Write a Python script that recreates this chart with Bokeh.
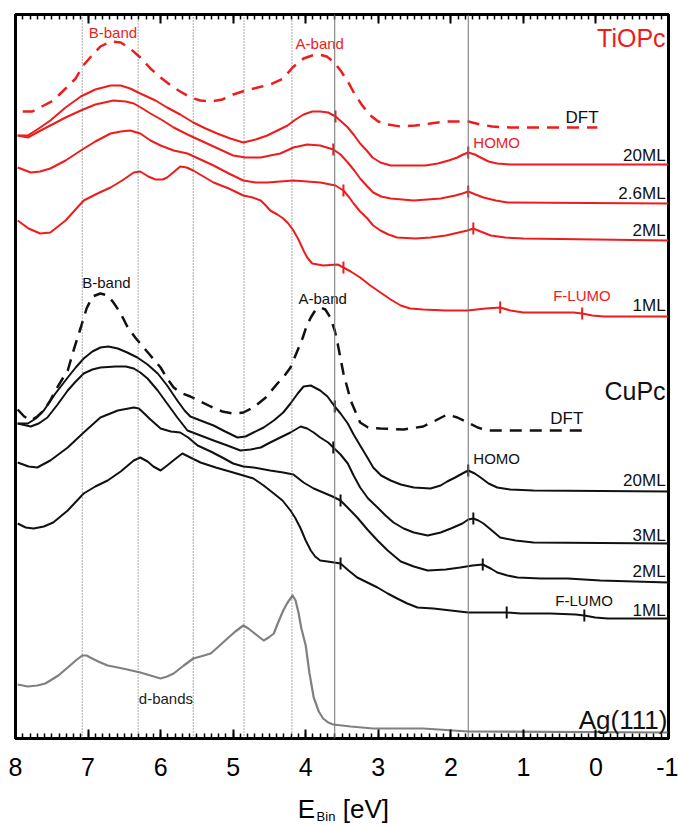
import numpy as np
from bokeh.plotting import figure
from bokeh.models import Range1d, LinearAxis, Span, SingleIntervalTicker, CustomJSTickFormatter
from bokeh.core.properties import value
from bokeh.layouts import column
from bokeh.embed import file_html
from bokeh.resources import INLINE

# ---------------- data: binding energy (eV) and offset intensity (arb. units) ----
ti_dft_e = [7.90, 7.77, 7.61, 7.48, 7.31, 7.17, 7.08, 6.97, 6.83, 6.69, 6.55, 6.42, 6.28, 6.14, 6.00, 5.86, 5.73, 5.59, 5.45, 5.31, 5.15, 5.00, 4.83, 4.66, 4.49, 4.31, 4.18, 4.03, 3.91, 3.82, 3.71, 3.62, 3.52, 3.42, 3.33, 3.22, 3.11, 3.00, 2.87, 2.69, 2.49, 2.28, 2.07, 1.76, 1.59, 1.43, 1.18, -0.02]
ti_dft_i = [627, 627, 633, 638, 650, 660, 672, 681, 692, 697, 696, 690, 681, 670, 661, 653, 647, 641, 638, 637, 639, 644, 648, 651, 654, 660, 671, 680, 683, 684, 682, 677, 668, 657, 645, 633, 623, 617, 614, 612, 613, 615, 617, 617, 614, 612, 611, 611]

ti_20_e = [7.97, 7.83, 7.68, 7.52, 7.31, 7.10, 6.90, 6.69, 6.55, 6.42, 6.28, 6.07, 5.91, 5.73, 5.55, 5.38, 5.22, 5.04, 4.86, 4.69, 4.53, 4.39, 4.25, 4.14, 4.03, 3.91, 3.80, 3.69, 3.59, 3.51, 3.42, 3.33, 3.25, 3.16, 3.08, 2.97, 2.83, 2.60, 2.35, 2.18, 2.03, 1.91, 1.83, 1.76, 1.67, 1.59, 1.48, 1.36, 1.18, -1.00]
ti_20_i = [603, 603, 610, 618, 631, 642, 649, 653, 653, 650, 645, 638, 631, 624, 616, 610, 605, 600, 596, 599, 603, 608, 613, 619, 624, 627, 627, 626, 622, 617, 611, 603, 595, 588, 581, 576, 573, 573, 573, 575, 578, 581, 584, 586, 584, 581, 577, 575, 574, 574]

ti_26_e = [7.97, 7.83, 7.68, 7.52, 7.31, 7.10, 6.90, 6.65, 6.48, 6.37, 6.25, 6.14, 5.97, 5.82, 5.63, 5.45, 5.24, 5.00, 4.83, 4.62, 4.49, 4.35, 4.17, 3.98, 3.80, 3.62, 3.52, 3.42, 3.33, 3.25, 3.15, 3.07, 2.96, 2.83, 2.51, 2.14, 1.94, 1.84, 1.76, 1.66, 1.55, 1.38, 1.22, -1.00]
ti_26_i = [603, 601, 607, 613, 621, 628, 634, 638, 637, 635, 630, 625, 618, 611, 604, 598, 591, 583, 581, 581, 583, 585, 591, 594, 593, 589, 584, 576, 568, 560, 552, 546, 542, 540, 538, 540, 543, 545, 547, 544, 541, 538, 536, 535]

ti_2_e = [7.97, 7.79, 7.66, 7.52, 7.31, 7.10, 6.90, 6.69, 6.55, 6.42, 6.28, 6.14, 6.00, 5.82, 5.63, 5.45, 5.27, 5.06, 4.86, 4.69, 4.53, 4.35, 4.17, 3.98, 3.80, 3.59, 3.48, 3.41, 3.34, 3.25, 3.15, 3.07, 2.97, 2.86, 2.74, 2.49, 2.28, 2.07, 1.89, 1.77, 1.69, 1.59, 1.45, 1.25, 1.00, -1.00]
ti_2_i = [571, 566, 567, 570, 578, 588, 597, 605, 607, 608, 605, 598, 593, 588, 585, 579, 573, 565, 558, 556, 556, 557, 558, 557, 556, 553, 548, 542, 535, 527, 520, 513, 508, 504, 501, 500, 501, 503, 506, 508, 510, 507, 503, 501, 500, 498]

ti_1_e = [7.97, 7.82, 7.66, 7.52, 7.31, 7.06, 6.87, 6.69, 6.53, 6.37, 6.28, 6.17, 6.07, 5.97, 5.91, 5.81, 5.73, 5.64, 5.55, 5.41, 5.27, 5.06, 4.86, 4.73, 4.62, 4.55, 4.49, 4.39, 4.31, 4.24, 4.17, 4.10, 4.03, 3.98, 3.91, 3.76, 3.56, 3.48, 3.38, 3.25, 3.11, 2.97, 2.83, 2.69, 2.56, 2.38, 2.07, 1.77, 1.52, 1.32, 1.18, 1.00, 0.31, 0.19, 0.05, -0.10, -1.00]
ti_1_i = [518, 510, 505, 506, 518, 538, 545, 551, 558, 566, 567, 562, 559, 559, 561, 567, 572, 571, 568, 562, 556, 550, 543, 541, 538, 533, 528, 524, 520, 515, 508, 499, 488, 481, 475, 473, 474, 471, 467, 461, 453, 446, 439, 433, 430, 429, 428, 428, 430, 431, 428, 426, 426, 425, 423, 422, 422]

cu_dft_e = [7.97, 7.88, 7.79, 7.70, 7.61, 7.52, 7.45, 7.35, 7.28, 7.20, 7.10, 7.02, 6.94, 6.83, 6.73, 6.65, 6.55, 6.46, 6.35, 6.28, 6.14, 6.00, 5.91, 5.82, 5.73, 5.59, 5.45, 5.31, 5.15, 5.00, 4.86, 4.72, 4.55, 4.39, 4.28, 4.21, 4.13, 4.04, 3.99, 3.93, 3.87, 3.80, 3.73, 3.66, 3.60, 3.56, 3.52, 3.48, 3.42, 3.38, 3.31, 3.25, 3.14, 2.97, 2.65, 2.38, 2.21, 2.05, 1.91, 1.77, 1.63, 1.50, 0.17]
cu_dft_i = [329, 322, 318, 322, 328, 338, 348, 360, 368, 388, 411, 430, 442, 445, 443, 436, 425, 412, 401, 395, 383, 371, 360, 351, 346, 342, 337, 332, 327, 325, 326, 331, 341, 355, 364, 371, 385, 401, 412, 421, 428, 431, 429, 421, 408, 395, 380, 365, 349, 338, 326, 316, 311, 310, 309, 312, 318, 324, 321, 316, 311, 308, 308]

cu_20_e = [7.97, 7.83, 7.72, 7.61, 7.45, 7.28, 7.17, 7.06, 6.94, 6.83, 6.72, 6.59, 6.46, 6.32, 6.18, 6.04, 5.91, 5.77, 5.67, 5.59, 5.45, 5.27, 5.11, 4.94, 4.83, 4.72, 4.58, 4.44, 4.31, 4.21, 4.11, 4.03, 3.93, 3.80, 3.70, 3.60, 3.52, 3.42, 3.34, 3.25, 3.15, 3.07, 2.96, 2.83, 2.69, 2.51, 2.28, 2.14, 2.05, 1.94, 1.84, 1.76, 1.67, 1.59, 1.48, 1.36, 1.18, 0.86, -1.00]
cu_20_i = [315, 315, 320, 328, 345, 361, 371, 380, 387, 391, 392, 390, 386, 381, 374, 365, 353, 338, 328, 322, 318, 313, 307, 301, 302, 306, 311, 318, 326, 335, 345, 352, 353, 348, 342, 332, 325, 315, 304, 293, 281, 271, 263, 258, 254, 251, 250, 253, 257, 261, 265, 268, 265, 261, 255, 251, 249, 248, 247]

cu_3_e = [7.97, 7.79, 7.68, 7.56, 7.42, 7.28, 7.17, 7.06, 6.94, 6.83, 6.62, 6.48, 6.37, 6.28, 6.18, 6.04, 5.91, 5.77, 5.63, 5.45, 5.27, 5.08, 4.90, 4.76, 4.62, 4.49, 4.35, 4.21, 4.07, 3.98, 3.89, 3.80, 3.69, 3.62, 3.52, 3.42, 3.34, 3.25, 3.14, 3.01, 2.90, 2.79, 2.65, 2.51, 2.32, 2.14, 2.00, 1.84, 1.76, 1.69, 1.62, 1.55, 1.45, 1.32, 1.11, 0.86, -1.00]
cu_3_i = [315, 312, 315, 321, 334, 348, 357, 365, 369, 371, 372, 372, 370, 366, 360, 348, 335, 321, 308, 303, 298, 293, 288, 289, 291, 296, 301, 306, 312, 310, 306, 301, 296, 291, 284, 275, 263, 251, 240, 231, 223, 216, 210, 206, 203, 206, 210, 215, 219, 220, 218, 215, 209, 201, 198, 196, 195]

cu_2_e = [7.97, 7.82, 7.70, 7.52, 7.28, 7.06, 6.83, 6.59, 6.37, 6.30, 6.24, 6.14, 6.00, 5.86, 5.73, 5.62, 5.49, 5.31, 5.15, 5.00, 4.86, 4.72, 4.49, 4.31, 4.17, 4.03, 3.89, 3.76, 3.63, 3.52, 3.41, 3.29, 3.15, 3.01, 2.87, 2.69, 2.51, 2.32, 2.07, 1.87, 1.70, 1.56, 1.45, 1.36, 1.22, 1.08, 0.76, 0.39, -0.06, -1.00]
cu_2_i = [276, 272, 271, 278, 291, 306, 321, 328, 331, 330, 326, 319, 310, 307, 306, 301, 293, 287, 281, 275, 272, 271, 268, 266, 264, 256, 250, 246, 242, 238, 230, 221, 209, 198, 188, 177, 172, 168, 169, 171, 173, 174, 170, 166, 163, 161, 160, 160, 158, 156]

cu_1_e = [7.97, 7.86, 7.75, 7.61, 7.48, 7.28, 7.06, 6.90, 6.73, 6.55, 6.37, 6.28, 6.18, 6.10, 6.00, 5.91, 5.79, 5.70, 5.59, 5.45, 5.24, 5.00, 4.86, 4.72, 4.58, 4.44, 4.32, 4.21, 4.14, 4.07, 4.00, 3.93, 3.87, 3.80, 3.70, 3.52, 3.41, 3.29, 3.15, 3.01, 2.87, 2.74, 2.60, 2.46, 2.24, 2.00, 1.76, 1.45, 1.23, 1.04, 0.63, 0.28, 0.16, 0.01, -0.16, -1.00]
cu_1_i = [215, 211, 210, 212, 216, 228, 245, 252, 258, 267, 278, 281, 277, 272, 268, 273, 280, 285, 281, 276, 271, 266, 263, 260, 253, 245, 238, 228, 220, 210, 198, 188, 182, 178, 177, 175, 168, 161, 156, 151, 145, 140, 135, 131, 130, 128, 126, 126, 126, 125, 125, 124, 123, 121, 120, 120]

ag_e = [7.97, 7.83, 7.70, 7.59, 7.52, 7.41, 7.28, 7.17, 7.08, 7.02, 6.97, 6.86, 6.73, 6.59, 6.46, 6.28, 6.14, 6.00, 5.91, 5.82, 5.68, 5.55, 5.45, 5.31, 5.20, 5.08, 4.97, 4.86, 4.79, 4.72, 4.65, 4.58, 4.51, 4.44, 4.38, 4.31, 4.25, 4.18, 4.14, 4.10, 4.06, 4.00, 3.95, 3.89, 3.82, 3.76, 3.69, 3.62, 3.38, 3.07, 2.38, 1.76, -1.00]
ag_i = [54, 52, 53, 55, 58, 63, 71, 78, 83, 83, 81, 77, 73, 71, 69, 66, 63, 60, 62, 65, 73, 80, 82, 85, 92, 100, 107, 113, 110, 106, 102, 98, 101, 105, 116, 128, 136, 143, 138, 126, 110, 93, 66, 41, 27, 20, 16, 14, 12, 10, 10, 7, 6]

# marked peak / onset positions (eV) on each spectrum
ti_20_marks = [3.59, 1.76]
ti_26_marks = [3.62, 1.76]
ti_2_marks = [3.48, 1.69]
ti_1_marks = [3.48, 1.32, 0.19]
cu_20_marks = [3.60, 1.76]
cu_3_marks = [3.62, 1.69]
cu_2_marks = [3.52, 1.56]
cu_1_marks = [3.52, 1.23, 0.16]

dotted_lines_e = [7.08, 6.31, 5.55, 4.85, 4.19]
solid_lines_e = [3.60, 1.76]

tick_overrides = {-1: "-1"}

RED = "#ee1c1c"
BLACK = "#111111"
GRAY = "#808080"
FONT = "Liberation Sans"

p = figure(width=678, height=785, output_backend="svg", toolbar_location=None,
           x_range=Range1d(8, -1), y_range=Range1d(0, 724),
           min_border_left=15, min_border_right=10, min_border_top=14, min_border_bottom=47,
           background_fill_color="white", border_fill_color="white")
p.xgrid.visible = False
p.ygrid.visible = False
p.yaxis.visible = False
p.outline_line_color = "black"
p.outline_line_width = 3


def style_axis(ax):
    ax.axis_line_width = 3
    ax.major_tick_in = 9
    ax.major_tick_out = 0
    ax.minor_tick_in = 5
    ax.minor_tick_out = 0
    ax.major_tick_line_width = 2
    ax.minor_tick_line_width = 1.5


xa = p.xaxis[0]
xa.ticker = SingleIntervalTicker(interval=1, num_minor_ticks=10)
style_axis(xa)
xa.major_label_text_font = FONT
xa.major_label_text_font_size = "25px"
xa.major_label_text_color = "black"
xa.major_label_standoff = 19
xa.major_label_overrides = tick_overrides

# mirrored top axis: ticks only, no labels
top = LinearAxis(ticker=SingleIntervalTicker(interval=1, num_minor_ticks=10),
                 formatter=CustomJSTickFormatter(code="return ''"))
style_axis(top)
top.major_label_text_font_size = "1px"
top.major_label_standoff = 0
p.add_layout(top, "above")

for e in dotted_lines_e:
    p.add_layout(Span(location=e, dimension="height", line_color="#555555",
                      line_width=1, line_dash="1 2"))
for e in solid_lines_e:
    p.add_layout(Span(location=e, dimension="height", line_color="#707070", line_width=1))

# spectra
p.line(ti_dft_e, ti_dft_i, line_color=RED, line_width=2.5, line_dash="12 8")
for e, i in [(ti_20_e, ti_20_i), (ti_26_e, ti_26_i), (ti_2_e, ti_2_i), (ti_1_e, ti_1_i)]:
    p.line(e, i, line_color=RED, line_width=2, line_join="round")
p.line(cu_dft_e, cu_dft_i, line_color=BLACK, line_width=2.5, line_dash="12 8")
for e, i in [(cu_20_e, cu_20_i), (cu_3_e, cu_3_i), (cu_2_e, cu_2_i), (cu_1_e, cu_1_i)]:
    p.line(e, i, line_color=BLACK, line_width=2, line_join="round")
p.line(ag_e, ag_i, line_color=GRAY, line_width=2.2, line_join="round")


# tick marks on the spectra
def marks(ex, ey, me, color):
    xs = np.array(ex)[::-1]
    ys = np.array(ey)[::-1]
    my = np.interp(me, xs, ys)
    p.segment(x0=me, y0=my - 6, x1=me, y1=my + 6, line_color=color, line_width=2)


marks(ti_20_e, ti_20_i, ti_20_marks, RED)
marks(ti_26_e, ti_26_i, ti_26_marks, RED)
marks(ti_2_e, ti_2_i, ti_2_marks, RED)
marks(ti_1_e, ti_1_i, ti_1_marks, RED)
marks(cu_20_e, cu_20_i, cu_20_marks, BLACK)
marks(cu_3_e, cu_3_i, cu_3_marks, BLACK)
marks(cu_2_e, cu_2_i, cu_2_marks, BLACK)
marks(cu_1_e, cu_1_i, cu_1_marks, BLACK)

# annotations: (text, x, y-centre, align, size, color)
annotations = [
    ("B-band", 6.99, 706, "left", "15px", RED),
    ("A-band", 4.14, 695, "left", "15px", RED),
    ("TiOPc", -0.96, 701, "right", "25px", RED),
    ("DFT", 0.42, 621, "left", "17px", BLACK),
    ("HOMO", 1.69, 596, "left", "15px", RED),
    ("20ML", -0.96, 583, "right", "17px", BLACK),
    ("2.6ML", -0.96, 545, "right", "17px", BLACK),
    ("2ML", -0.96, 508, "right", "17px", BLACK),
    ("1ML", -0.96, 433, "right", "17px", BLACK),
    ("F-LUMO", 0.59, 443, "left", "15px", RED),
    ("B-band", 7.08, 456, "left", "15px", BLACK),
    ("A-band", 4.10, 440, "left", "15px", BLACK),
    ("CuPc", -0.96, 348, "right", "25px", BLACK),
    ("DFT", 0.63, 320, "left", "17px", BLACK),
    ("HOMO", 1.69, 280, "left", "15px", BLACK),
    ("20ML", -0.96, 258, "right", "17px", BLACK),
    ("3ML", -0.96, 203, "right", "17px", BLACK),
    ("2ML", -0.96, 167, "right", "17px", BLACK),
    ("1ML", -0.96, 128, "right", "17px", BLACK),
    ("F-LUMO", 0.56, 138, "left", "15px", BLACK),
    ("d-bands", 6.30, 40, "left", "15px", "#222222"),
    ("Ag(111)", -0.985, 19, "right", "26px", BLACK),
]
for t, x, y, al, sz, c in annotations:
    p.text(x=[x], y=[y], text=[t], text_align=al, text_baseline="middle",
           text_font=value(FONT), text_font_size=sz, text_color=c)

# axis title strip below the plot (E with subscript "Bin", then [eV])
p2 = figure(width=678, height=40, output_backend="svg", toolbar_location=None,
            x_range=p.x_range, y_range=Range1d(0, 40),
            min_border_left=15, min_border_right=10, min_border_top=0, min_border_bottom=0,
            x_axis_location=None, y_axis_location=None,
            background_fill_color="white", border_fill_color="white")
p2.outline_line_color = None
p2.xgrid.visible = False
p2.ygrid.visible = False
title_parts = [("E", 4.11, 17, "26px"), ("Bin", 3.85, 9, "13px"), ("[eV]", 3.49, 17, "26px")]
for t, x, y, sz in title_parts:
    p2.text(x=[x], y=[y], text=[t], text_align="left", text_baseline="middle",
            text_font=value(FONT), text_font_size=sz, text_color="black")

layout = column(p, p2, spacing=0)
open("out.html", "w").write(file_html(layout, INLINE))
